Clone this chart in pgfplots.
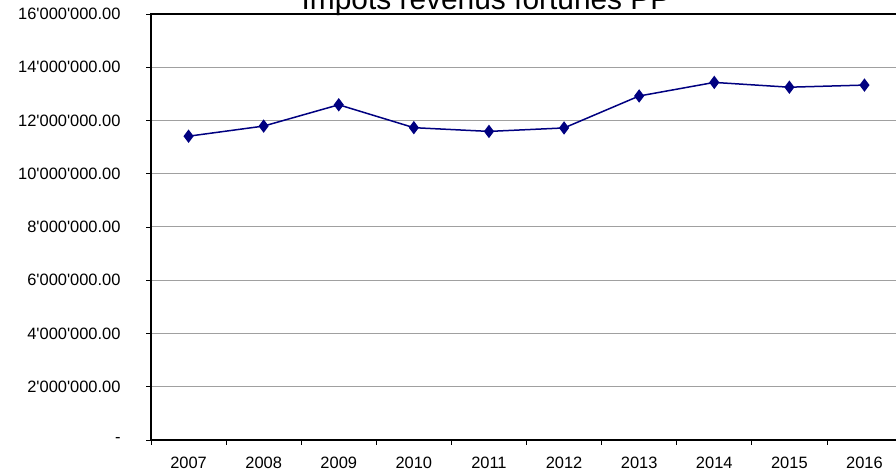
\documentclass[border=0pt]{standalone}
\usepackage{fontspec}
\setmainfont{Liberation Sans}
\usepackage{pgfplots}
\pgfplotsset{compat=1.18}
\definecolor{navyline}{HTML}{000080}
\definecolor{gridgray}{HTML}{A0A0A0}
\newcommand\q{\textquotesingle}

\begin{document}
\begin{tikzpicture}[x=1bp,y=1bp]
\begin{axis}[
  at={(151bp,32bp)}, anchor=south west,
  scale only axis, width=751bp, height=426bp,
  xmin=-0.5, xmax=9.5, ymin=0, ymax=16000000,
  scaled y ticks=false,
  axis line style={black, line width=1.5bp},
  xtick={0,1,2,3,4,5,6,7,8,9},
  xticklabels={2007,2008,2009,2010,2011,2012,2013,2014,2015,2016},
  major x tick style={draw=none},
  minor xtick={-0.5,0.5,1.5,2.5,3.5,4.5,5.5,6.5,7.5,8.5,9.5},
  minor x tick style={black, line width=0.8bp},
  ytick={0,2000000,4000000,6000000,8000000,10000000,12000000,14000000,16000000},
  yticklabels={-\hspace{8bp},2\q000\q000.00,4\q000\q000.00,6\q000\q000.00,8\q000\q000.00,10\q000\q000.00,12\q000\q000.00,14\q000\q000.00,16\q000\q000.00},
  major y tick style={black, line width=0.8bp},
  tick align=outside,
  major tick length=5bp, minor tick length=5bp,
  xtick pos=bottom, ytick pos=left,
  ymajorgrids, grid style={gridgray, line width=1bp},
  ticklabel style={font=\fontsize{16.5}{17}\selectfont},
  yticklabel style={anchor=east, xshift=-22bp},
  xticklabel style={anchor=base, yshift=-24bp},
  clip=false,
]
\addplot[color=navyline, line width=1.5bp, mark=diamond*, mark size=5.5bp, mark options={fill=navyline}]
  coordinates {
  (0,11410000) (1,11790000) (2,12590000) (3,11730000) (4,11590000)
  (5,11720000) (6,12920000) (7,13430000) (8,13250000) (9,13330000)
  };
\end{axis}
\node[anchor=base, font=\fontsize{30}{30}\selectfont] at (486,462) {Impôts revenus fortunes PP};
\pgfresetboundingbox
\useasboundingbox (0,0) rectangle (896,472);
\end{tikzpicture}
\end{document}
